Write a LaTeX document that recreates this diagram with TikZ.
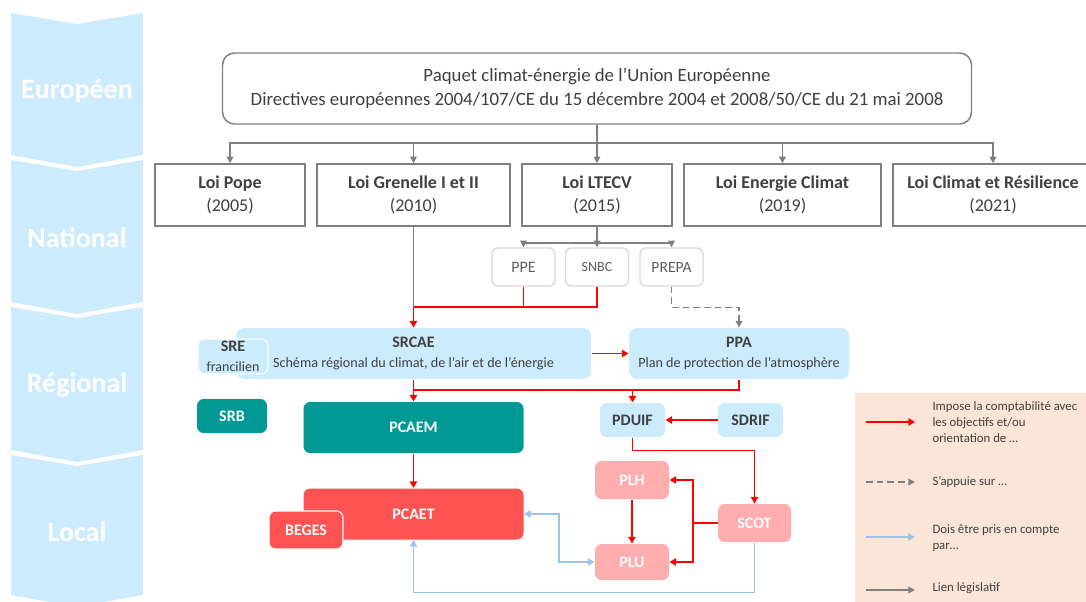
\documentclass[tikz,border=0pt]{standalone}
\usepackage{fontspec}
\setmainfont{Carlito}
\usetikzlibrary{arrows.meta}

\definecolor{txtgray}{HTML}{404040}
\definecolor{linegray}{HTML}{7F7F7F}
\definecolor{softgray}{HTML}{D9D9D9}
\definecolor{bandblue}{HTML}{CCEBFD}
\definecolor{linkblue}{HTML}{9DC3E6}
\definecolor{tealbox}{HTML}{009994}
\definecolor{redbox}{HTML}{FF5253}
\definecolor{pinkbox}{HTML}{FFADAE}
\definecolor{legendbg}{HTML}{FBE5D6}

\tikzset{every picture/.style={line width=0.75pt}}

\begin{document}
\begin{tikzpicture}[x=0.75pt,y=0.75pt,yscale=-1,xscale=1,
    lawbox/.style={draw=linegray,line width=1.1pt,fill=white,inner sep=0pt,align=center,text=txtgray,font=\fontsize{13.5}{17}\selectfont},
    subbox/.style={draw=softgray,line width=1pt,rounded corners=4.5pt,fill=white,inner sep=0pt,text=txtgray!85,minimum width=47.25pt,minimum height=28.5pt},
    planbox/.style={fill=bandblue,rounded corners=6pt,inner sep=0pt,align=center,text=txtgray,font=\fontsize{10.6}{15}\selectfont},
    colbox/.style={rounded corners=5pt,inner sep=0pt,text=white,font=\bfseries\fontsize{12}{14}\selectfont},
    legtext/.style={anchor=west,inner sep=0pt,align=left,text=txtgray,font=\fontsize{9.6}{12}\selectfont},
    law/.style={draw=linegray,line width=1.1pt,-{Triangle[width=5pt,length=5pt]}},
    lawline/.style={draw=linegray,line width=1.1pt},
    appui/.style={draw=linegray,line width=1.1pt,dash pattern=on 5pt off 3pt,-{Triangle[width=5pt,length=5pt]}},
    impose/.style={draw=red,line width=1.4pt,-{Triangle[width=5.5pt,length=5pt]}},
    redline/.style={draw=red,line width=1.4pt},
    compte/.style={draw=linkblue,line width=1.4pt,-{Triangle[width=5.5pt,length=5pt]}}
  ]
  \useasboundingbox (0,0) rectangle (1086,601);

  %Shape: level band
  \foreach \t/\b/\lab [count=\i] in {13/155/Européen,160/302/National,307/450/Régional,455/595/Local}{
    \fill[bandblue] (11,\t) -- (77,\t+11) -- (143,\t) -- (143,\b) -- (77,\b+12) -- (11,\b) -- cycle;
    \node[text=white,font=\bfseries\fontsize{21}{24}\selectfont] (level\i) at (77,{(\t+\b)/2+7}) {\lab};
  }

  %Shape: legend background
  \fill[legendbg] (855,393) rectangle (1092,606);

  % European package
  \node[lawbox,rounded corners=9pt,minimum width=561.75pt,minimum height=53.25pt,font=\fontsize{14.1}{18}\selectfont] (paquet) at (597,88.5)
    {Paquet climat-énergie de l’Union Européenne\\Directives européennes 2004/107/CE du 15 décembre 2004 et 2008/50/CE du 21 mai 2008};

  % National laws
  \node[lawbox,minimum width=112.5pt,minimum height=46.5pt] (pope) at (230,195) {\textbf{Loi Pope}\\(2005)};
  \node[lawbox,minimum width=144.75pt,minimum height=46.5pt] (grenelle) at (413.5,195) {\textbf{Loi Grenelle I et II}\\(2010)};
  \node[lawbox,minimum width=112.5pt,minimum height=46.5pt] (ltecv) at (597,195) {\textbf{Loi LTECV}\\(2015)};
  \node[lawbox,minimum width=147.75pt,minimum height=46.5pt] (energie) at (782.5,195) {\textbf{Loi Energie Climat}\\(2019)};
  \node[lawbox,minimum width=150pt,minimum height=46.5pt] (resilience) at (993,195) {\textbf{Loi Climat et Résilience}\\(2021)};

  \coordinate (jlaw) at (597,143);
  \draw[lawline] (paquet.south) -- (jlaw);
  \foreach \n in {pope,grenelle,ltecv,energie,resilience}
    \draw[law] (jlaw) -| (\n.north);

  % National plans
  \node[subbox,font=\fontsize{12}{14}\selectfont] (ppe) at (523.5,267) {PPE};
  \node[subbox,font=\fontsize{10.5}{12}\selectfont] (snbc) at (597,267) {SNBC};
  \node[subbox,font=\fontsize{11.7}{14}\selectfont] (prepa) at (671.5,267) {PREPA};

  \coordinate (jltecv) at (597,243);
  \draw[lawline] (ltecv.south) -- (jltecv);
  \foreach \n in {ppe,snbc,prepa}
    \draw[law] (jltecv) -| (\n.north);

  % Regional schemes
  \node[planbox,minimum width=266.25pt,minimum height=38.25pt] (srcae) at (413.5,353.5)
    {\textbf{\fontsize{12}{15}\selectfont SRCAE}\\Schéma régional du climat, de l’air et de l’énergie};
  \node[planbox,draw=white,line width=0.8pt,rounded corners=5pt,minimum width=52.5pt,minimum height=26.25pt,font=\fontsize{10.5}{15}\selectfont] (sre) at (233,356.5)
    {\textbf{\fontsize{12}{14}\selectfont SRE}\\francilien};
  \node[planbox,minimum width=165pt,minimum height=38.25pt] (ppa) at (739,353.5)
    {\textbf{\fontsize{12}{15}\selectfont PPA}\\Plan de protection de l’atmosphère};
  \node[colbox,fill=tealbox,minimum width=52.5pt,minimum height=25.5pt] (srb) at (232,416) {SRB};

  \coordinate (jsrcae) at (413.5,307);
  \draw[lawline] (grenelle.south) -- (jsrcae);
  \draw[redline] (snbc.south) |- (jsrcae);
  \draw[redline] (ppe.south) -- (ppe.south |- jsrcae);
  \draw[impose] (jsrcae) -- (srcae.north);
  \draw[appui] (prepa.south) -- ++(0,21) -| (ppa.north);
  \draw[impose] (srcae.east) -- (ppa.west);

  % Local plans
  \node[colbox,fill=tealbox,minimum width=165pt,minimum height=38.25pt] (pcaem) at (413.5,427.5) {PCAEM};
  \node[colbox,fill=redbox,minimum width=165pt,minimum height=38.25pt] (pcaet) at (413.5,514) {PCAET};
  \node[colbox,fill=redbox,draw=white,line width=0.8pt,minimum width=55.5pt,minimum height=28.5pt] (beges) at (306,530) {BEGES};
  \node[colbox,fill=bandblue,text=txtgray,minimum width=48.75pt,minimum height=25.5pt] (pduif) at (632.5,420) {PDUIF};
  \node[colbox,fill=bandblue,text=txtgray,minimum width=48.75pt,minimum height=25.5pt] (sdrif) at (750.5,420) {SDRIF};
  \node[colbox,fill=pinkbox,minimum width=55.5pt,minimum height=28.5pt] (plh) at (632,480) {PLH};
  \node[colbox,fill=pinkbox,minimum width=55.5pt,minimum height=27pt] (plu) at (632,562) {PLU};
  \node[colbox,fill=pinkbox,minimum width=54.75pt,minimum height=28.5pt] (scot) at (754.5,523) {SCOT};

  \coordinate (jppa) at (413.5,390);
  \draw[impose] (srcae.south) -- (pcaem.north);
  \draw[redline] (ppa.south) |- (jppa);
  \draw[impose] (pduif.north |- jppa) -- (pduif.north);
  \draw[impose] (sdrif.west) -- (pduif.east);
  \draw[impose] (pduif.south) -- ++(0,13) -| (scot.north);
  \draw[impose] (pcaem.south) -- (pcaet.north);
  \draw[impose] (plh.south) -- (plu.north);
  \coordinate (jscot) at (693,523);
  \draw[redline] (scot.west) -- (jscot);
  \draw[impose] (jscot) |- (plh.east);
  \draw[impose] (jscot) |- (plu.east);
  \draw[compte,{Triangle[width=5.5pt,length=5pt]}-{Triangle[width=5.5pt,length=5pt]}] (pcaet.east) -- ++(35,0) |- (plu.west);
  \draw[compte] (scot.south) -- ++(0,50) -| (pcaet.south);

  % Legend
  \node[legtext] (legimpose) at (932,422) {Impose la comptabilité avec\\les objectifs et/ou\\orientation de …};
  \node[legtext] (legappui) at (932,482) {S’appuie sur …};
  \node[legtext] (legcompte) at (932,538) {Dois être pris en compte\\par…};
  \node[legtext] (leglaw) at (932,588) {Lien législatif};
  \coordinate (la1) at (866,422); \coordinate (lb1) at (915,422);
  \coordinate (la2) at (866,482); \coordinate (lb2) at (915,482);
  \coordinate (la3) at (866,537); \coordinate (lb3) at (915,537);
  \coordinate (la4) at (866,590); \coordinate (lb4) at (915,590);
  \draw[impose] (la1) -- (lb1);
  \draw[appui] (la2) -- (lb2);
  \draw[compte] (la3) -- (lb3);
  \draw[law] (la4) -- (lb4);

\end{tikzpicture}
\end{document}
